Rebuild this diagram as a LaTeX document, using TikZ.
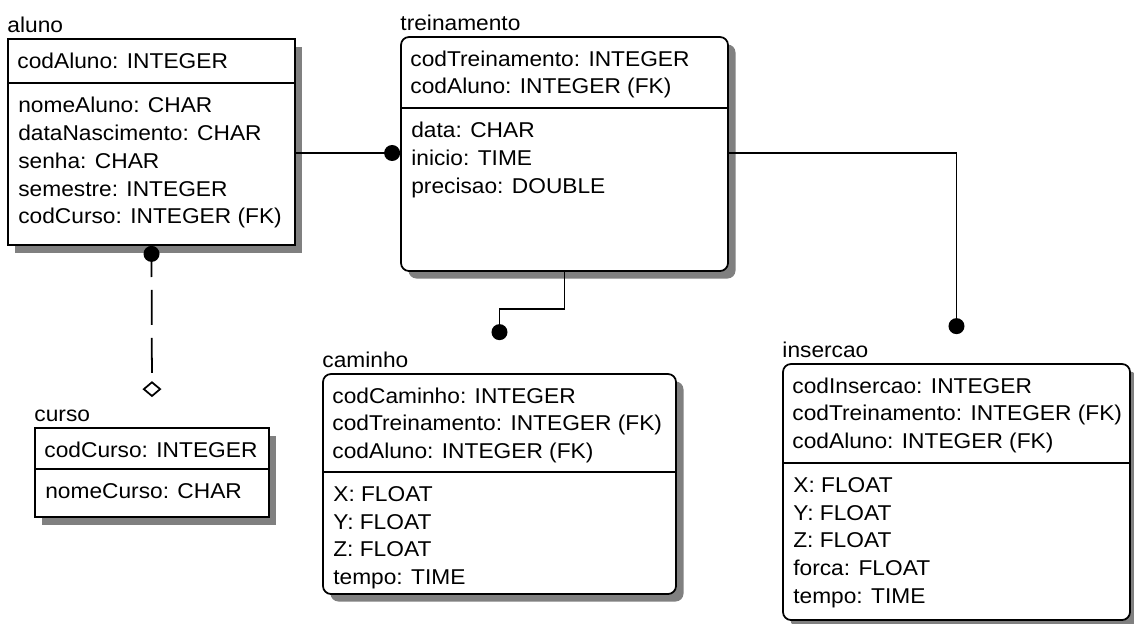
\documentclass[tikz,border=0pt]{standalone}
\usepackage{fontspec}
\setmainfont{Liberation Sans}[FakeStretch=1.06]
\usetikzlibrary{arrows.meta,fit,shadows}
\tikzset{
  erfont/.style={font=\fontsize{12.2}{15.8}\selectfont},
  ebox/.style={draw,line width=1pt,fill=white,inner sep=0pt,
               drop shadow={shadow xshift=0.15cm,shadow yshift=-0.15cm,
                            fill=black!50,opacity=1}},
  erbox/.style={ebox,rounded corners=0.16cm},
  etitle/.style={erfont,anchor=base west,inner sep=0pt,yshift=0.12cm},
  etext/.style={erfont,anchor=north west,inner sep=0pt,align=left,
                xshift=0.2cm,yshift=-0.28cm},
  ediv/.style={line width=1pt},
  rel/.style={line width=1pt,-{Circle[length=0.32cm]}},
  nrel/.style={line width=1pt,dash pattern=on 0.7cm off 0.26cm,dash phase=0.38cm,
               {Circle[length=0.32cm]}-{Diamond[open,length=0.32cm,width=0.38cm]}},
}
\begin{document}
\begin{tikzpicture}[x=0.02cm,y=-0.02cm]
  \path[use as bounding box,fill=white] (0,0) rectangle (1134,623);

  % aluno
  \node[ebox,fit={(8,39) (295,245)}] (alu) {};
  \node[etitle] (alut) at (alu.north west) {aluno};
  \node[etext] (aluk) at (alu.north west) {codAluno: INTEGER};
  \coordinate (alud) at (8,83);
  \draw[ediv] (alud) -- (alud -| alu.east);
  \node[etext] (alua) at (alud) {nomeAluno: CHAR\\dataNascimento: CHAR\\senha: CHAR\\
    semestre: INTEGER\\codCurso: INTEGER (FK)};

  % treinamento
  \node[erbox,fit={(401,37) (728,271)}] (tre) {};
  \node[etitle] (tret) at (tre.north west) {treinamento};
  \node[etext] (trek) at (tre.north west) {codTreinamento: INTEGER\\codAluno: INTEGER (FK)};
  \coordinate (tred) at (401,108);
  \draw[ediv] (tred) -- (tred -| tre.east);
  \node[etext] (trea) at (tred) {data: CHAR\\inicio: TIME\\precisao: DOUBLE};

  % curso
  \node[ebox,fit={(35,428) (269,517)}] (cur) {};
  \node[etitle] (curt) at (cur.north west) {curso};
  \node[etext] (curk) at (cur.north west) {codCurso: INTEGER};
  \coordinate (curd) at (35,469);
  \draw[ediv] (curd) -- (curd -| cur.east);
  \node[etext] (cura) at (curd) {nomeCurso: CHAR};

  % caminho
  \node[erbox,fit={(323,374) (676,594)}] (cam) {};
  \node[etitle] (camt) at (cam.north west) {caminho};
  \node[etext] (camk) at (cam.north west) {codCaminho: INTEGER\\
    codTreinamento: INTEGER (FK)\\codAluno: INTEGER (FK)};
  \coordinate (camd) at (323,472);
  \draw[ediv] (camd) -- (camd -| cam.east);
  \node[etext] (cama) at (camd) {X: FLOAT\\Y: FLOAT\\Z: FLOAT\\tempo: TIME};

  % insercao
  \node[erbox,fit={(783,364) (1130,620)}] (ins) {};
  \node[etitle] (inst) at (ins.north west) {insercao};
  \node[etext] (insk) at (ins.north west) {codInsercao: INTEGER\\
    codTreinamento: INTEGER (FK)\\codAluno: INTEGER (FK)};
  \coordinate (insd) at (783,463);
  \draw[ediv] (insd) -- (insd -| ins.east);
  \node[etext] (insa) at (insd) {X: FLOAT\\Y: FLOAT\\Z: FLOAT\\forca: FLOAT\\tempo: TIME};

  % relationships
  \coordinate (rely) at (0,153);
  \draw[rel] (alu.east |- rely) -- (tre.west |- rely);
  \draw[rel] (tre.east |- rely) -| ([yshift=0.58cm]ins.north);
  \draw[rel] (tre.south) -- ++(0,37) -| ([yshift=0.66cm]cam.north);
  \draw[nrel] (alu.south) -- ([yshift=0.6cm]cur.north);
\end{tikzpicture}
\end{document}
